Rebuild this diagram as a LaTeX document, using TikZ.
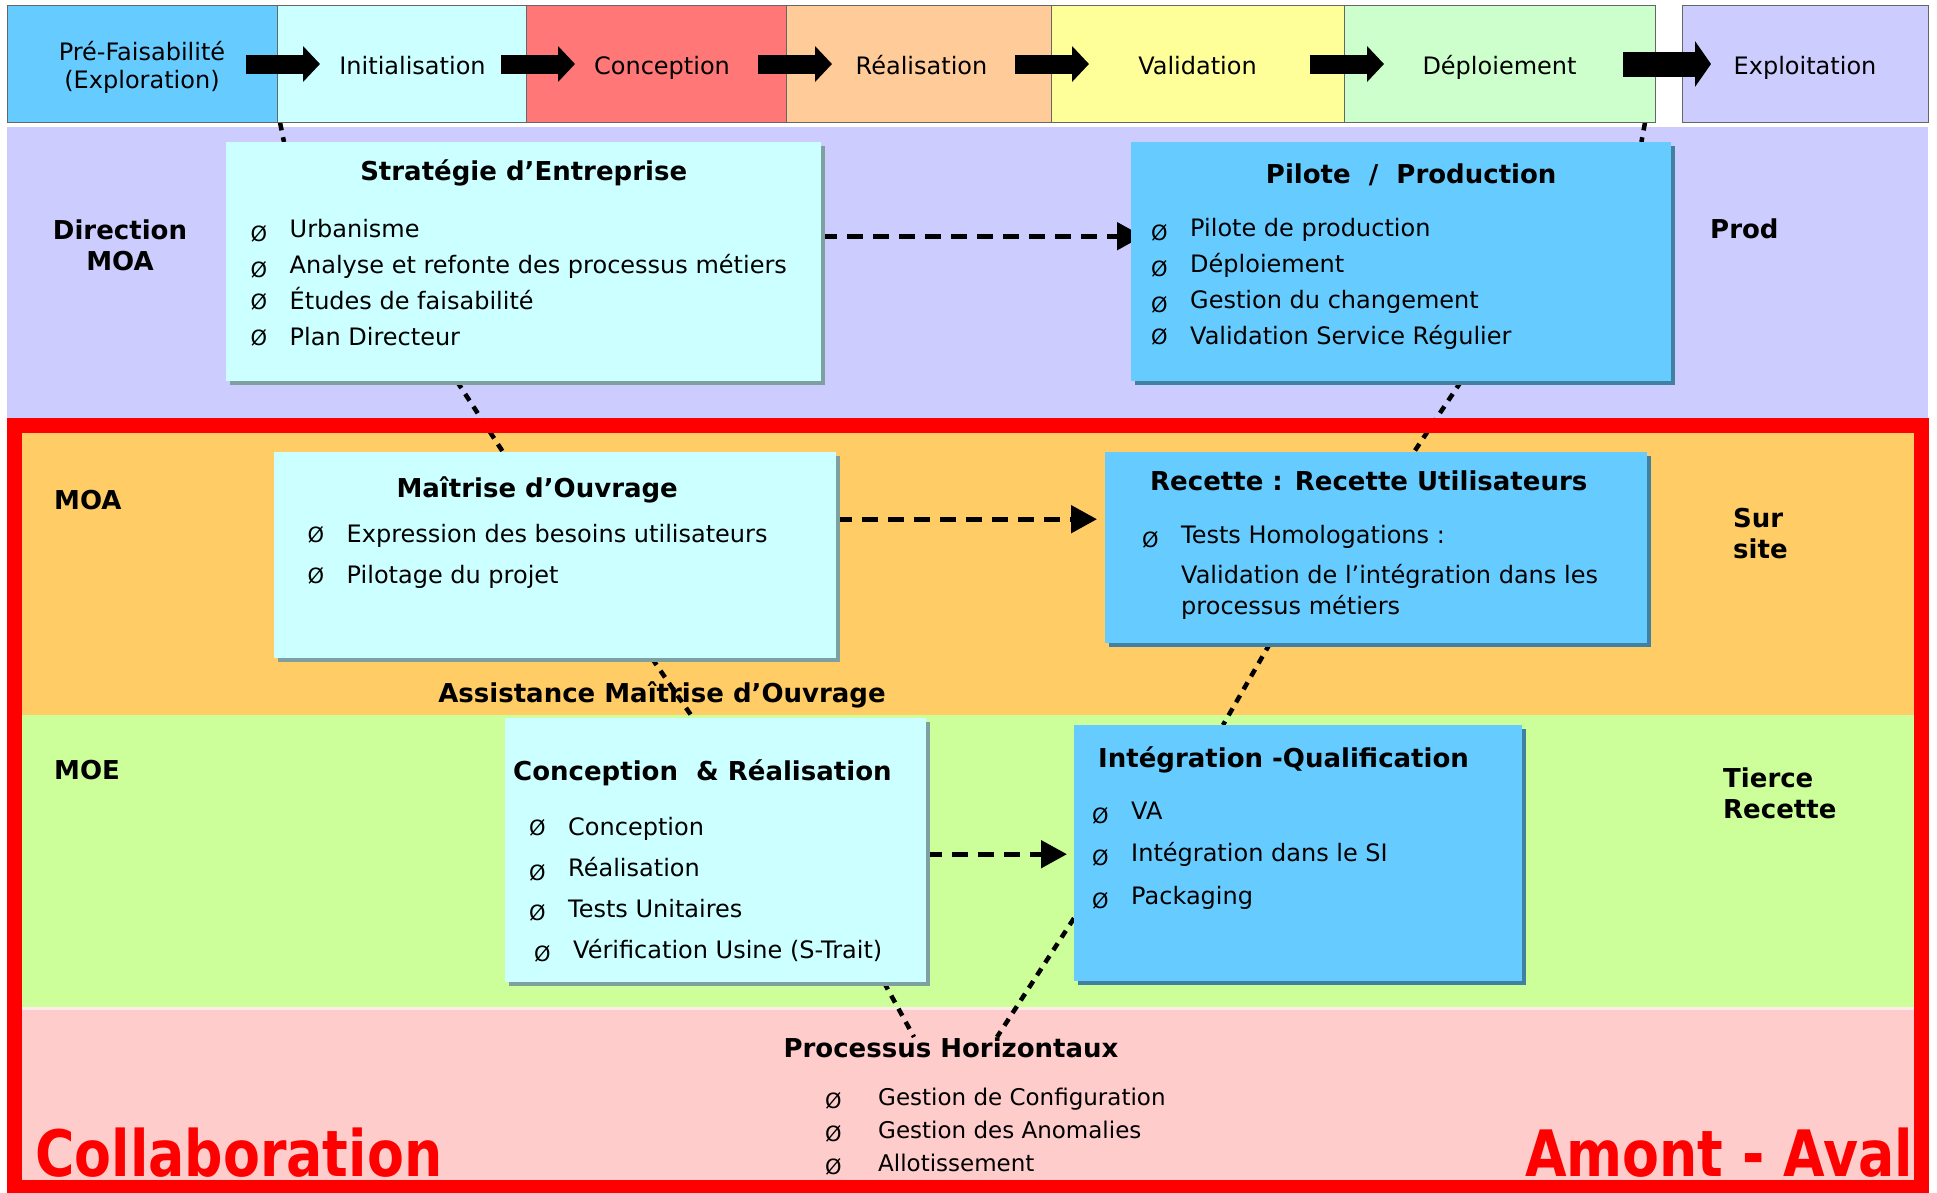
\documentclass[tikz,border=0pt]{standalone}
\usepackage{fontspec}
\setmainfont{DejaVu Sans}
\usepackage{graphicx}
\usetikzlibrary{positioning,arrows.meta,shadows}

\definecolor{preC}{HTML}{66CCFF}
\definecolor{iniC}{HTML}{CCFFFF}
\definecolor{concC}{HTML}{FF7777}
\definecolor{realC}{HTML}{FFCC99}
\definecolor{validC}{HTML}{FFFF99}
\definecolor{deplC}{HTML}{CCFFCC}
\definecolor{explC}{HTML}{CCCCFF}
\definecolor{dirC}{HTML}{CCCCFF}
\definecolor{moaC}{HTML}{FFCC66}
\definecolor{moeC}{HTML}{CCFF99}
\definecolor{horC}{HTML}{FFCCCC}
\definecolor{cyanbox}{HTML}{CCFFFF}
\definecolor{cyanshadow}{HTML}{7FA0A0}
\definecolor{bluebox}{HTML}{66CCFF}
\definecolor{blueshadow}{HTML}{4080A0}

\newcommand{\topfont}{\fontsize{24}{28}\selectfont}
\newcommand{\hdfont}{\fontsize{26}{31}\selectfont\bfseries}
\newlength\itmgap
\setlength\itmgap{39pt}
\newcommand{\itm}[2][0pt]{\makebox[\itmgap][l]{\raisebox{-#1}{\fontsize{21}{21}\selectfont Ø}}#2}

\pgfdeclarelayer{back}
\pgfdeclarelayer{links}
\pgfsetlayers{back,links,main}

\tikzset{
  phase/.style={draw=black!60, line width=0.8pt, outer sep=0pt, inner sep=0pt, minimum height=117pt, font=\topfont},
  oneline/.style={text height=20pt, text depth=0pt},
  blockarr/.style={line width=19pt, -{Triangle[length=17pt,width=35pt]}},
  cbox/.style={anchor=north west, inner sep=0pt, fill=cyanbox, drop shadow={shadow xshift=4pt, shadow yshift=-4pt, fill=cyanshadow, opacity=1}},
  bbox/.style={anchor=north west, inner sep=0pt, fill=bluebox, drop shadow={shadow xshift=4pt, shadow yshift=-4pt, fill=blueshadow, opacity=1}},
  boxtitle/.style={inner sep=0pt, anchor=base, font=\hdfont},
  lst/.style={inner sep=0pt, anchor=base west, font=\fontsize{24}{#1}\selectfont},
  lst/.default=36,
  lbl/.style={inner sep=0pt, anchor=base west, font=\hdfont},
  flow/.style={line width=5pt, dash pattern=on 16pt off 10pt, -{Triangle[length=26pt,width=27pt]}},
  link/.style={line width=4.5pt, dash pattern=on 8pt off 7pt},
  bigred/.style={inner sep=0pt, text=red, font=\fontsize{64}{70}\selectfont\bfseries}
}

\begin{document}
\begin{tikzpicture}[x=1pt,y=-1pt]
  \useasboundingbox (0,0) rectangle (1937,1192);

  % bands
  \begin{pgfonlayer}{back}
    \fill[dirC] (7,127) rectangle (1928,425);
    \fill[moaC] (14,425) rectangle (1921,715);
    \fill[moeC] (14,715) rectangle (1921,1007);
    \fill[horC!40] (14,1007) rectangle (1921,1010);
    \fill[horC] (14,1010) rectangle (1921,1190);
  \end{pgfonlayer}
  \draw[red, line width=15pt] (14.5,425) rectangle (1921.5,1187.5);

  % phases
  \node[phase, fill=preC, minimum width=270pt, anchor=north west] (pf) at (7,5.5) {\raisebox{-5pt}[\height][\depth]{\begin{tabular}{@{}c@{}}Pré-Faisabilité\\(Exploration)\end{tabular}}};
  \node[phase, oneline, fill=iniC, minimum width=249pt, right=0pt of pf] (ini) {\hspace*{22pt}Initialisation};
  \node[phase, oneline, fill=concC, minimum width=260pt, right=0pt of ini] (conc) {\hspace*{12pt}Conception};
  \node[phase, oneline, fill=realC, minimum width=265pt, right=0pt of conc] (real) {\hspace*{6pt}Réalisation};
  \node[phase, oneline, fill=validC, minimum width=293pt, right=0pt of real] (valid) {Validation};
  \node[phase, oneline, fill=deplC, minimum width=311pt, right=0pt of valid] (depl) {Déploiement};
  \node[phase, oneline, fill=explC, minimum width=246pt, right=27pt of depl] (expl) {Exploitation};

  \draw[blockarr] ([xshift=-31pt]pf.east) -- ([xshift=43pt]ini.west);
  \draw[blockarr] ([xshift=-25pt]ini.east) -- ([xshift=49pt]conc.west);
  \draw[blockarr] ([xshift=-28pt]conc.east) -- ([xshift=46pt]real.west);
  \draw[blockarr] ([xshift=-36pt]real.east) -- ([xshift=38pt]valid.west);
  \draw[blockarr] ([xshift=-34pt]valid.east) -- ([xshift=40pt]depl.west);
  \draw[blockarr, line width=25pt, -{Triangle[length=16pt,width=45pt]}] ([xshift=-32pt]depl.east) -- ([xshift=29pt]expl.west);

  % boxes
  \node[cbox, minimum width=595pt, minimum height=239pt] (strat) at (226,142) {};
  \node[bbox, minimum width=540pt, minimum height=239pt] (pilot) at (1131,142) {};
  \node[cbox, minimum width=562pt, minimum height=206pt] (moa) at (274,452) {};
  \node[bbox, minimum width=542pt, minimum height=191pt] (recet) at (1105,452) {};
  \node[cbox, minimum width=421pt, minimum height=264pt] (concre) at (505,718) {};
  \node[bbox, minimum width=448pt, minimum height=256pt] (integ) at (1074,725) {};

  \node[boxtitle] (strat-t) at ([yshift=-38pt]strat.north) {Stratégie d’Entreprise};
  \node[boxtitle] (pilot-t) at ([xshift=10pt,yshift=-41pt]pilot.north) {Pilote \ / \ Production};
  \node[boxtitle] (moa-t) at ([xshift=-18pt,yshift=-45pt]moa.north) {Maîtrise d’Ouvrage};
  \node[boxtitle, anchor=base west] (recet-t) at ([xshift=45pt,yshift=-38pt]recet.north west) {Recette : Recette Utilisateurs};
  \node[boxtitle, anchor=base west] (concre-t) at ([xshift=8pt,yshift=-62pt]concre.north west) {Conception\ \ \& Réalisation};
  \node[boxtitle, anchor=base west] (integ-t) at ([xshift=24pt,yshift=-42pt]integ.north west) {Intégration -Qualification};

  \node[lst] (strat-l) at ([xshift=24.5pt,yshift=-95pt]strat.north west) {\begin{tabular}[t]{@{}l@{}}
      \itm[4pt]{Urbanisme}\\
      \itm[4pt]{Analyse et refonte des processus métiers}\\
      \itm{Études de faisabilité}\\
      \itm{Plan Directeur}
    \end{tabular}};
  \node[lst] (pilot-l) at ([xshift=20pt,yshift=-94pt]pilot.north west) {\begin{tabular}[t]{@{}l@{}}
      \itm[4pt]{Pilote de production}\\
      \itm[4pt]{Déploiement}\\
      \itm[4pt]{Gestion du changement}\\
      \itm{Validation Service Régulier}
    \end{tabular}};
  \node[lst=41] (moa-l) at ([xshift=33.5pt,yshift=-90pt]moa.north west) {\begin{tabular}[t]{@{}l@{}}
      \itm{Expression des besoins utilisateurs}\\
      \itm{Pilotage du projet}
    \end{tabular}};
  \node[lst=31] (recet-l) at ([xshift=37pt,yshift=-91pt]recet.north west) {\begin{tabular}[t]{@{}l@{}}
      \itm[4pt]{Tests Homologations :}\\[9pt]
      \hspace*{\itmgap}Validation de l’intégration dans les\\
      \hspace*{\itmgap}processus métiers
    \end{tabular}};
  \node[lst=41] (concre-l) at ([xshift=24pt,yshift=-117pt]concre.north west) {\begin{tabular}[t]{@{}l@{}}
      \itm{Conception}\\
      \itm[4pt]{Réalisation}\\
      \itm[3pt]{Tests Unitaires}\\
      \hspace*{5pt}\itm[3pt]{Vérification Usine (S-Trait)}
    \end{tabular}};
  \node[lst=42.5] (integ-l) at ([xshift=18pt,yshift=-94pt]integ.north west) {\begin{tabular}[t]{@{}l@{}}
      \itm[4pt]{VA}\\
      \itm[4pt]{Intégration dans le SI}\\
      \itm[4pt]{Packaging}
    \end{tabular}};

  % labels
  \node[lbl, anchor=base] (dir) at (120,239) {\begin{tabular}[t]{@{}c@{}}Direction\\MOA\end{tabular}};
  \node[lbl] (prod) at (1710,238) {Prod};
  \node[lbl] (moa-n) at (54,509) {MOA};
  \node[lbl] (surs) at (1733,527) {\begin{tabular}[t]{@{}l@{}}Sur\\site\end{tabular}};
  \node[lbl, anchor=base] (amoa) at (662,702) {Assistance Maîtrise d’Ouvrage};
  \node[lbl] (moe) at (54,779) {MOE};
  \node[lbl] (tierce) at (1723,787) {\begin{tabular}[t]{@{}l@{}}Tierce\\Recette\end{tabular}};
  \node[lbl, anchor=base] (proc) at (951,1057) {Processus Horizontaux};
  \node[lst=33, font=\fontsize{23}{33}\selectfont] (proc-l) at ([xshift=-126pt,yshift=-48pt]proc.base) {\setlength\itmgap{53pt}\begin{tabular}[t]{@{}l@{}}
      \itm[3pt]{Gestion de Configuration}\\
      \itm[3pt]{Gestion des Anomalies}\\
      \itm[3pt]{Allotissement}
    \end{tabular}};
  \node[bigred, anchor=base west] (collab) at (35,1176) {\scalebox{0.84}[1]{Collaboration}};
  \node[bigred, anchor=base east] (amont) at (1913,1176) {\scalebox{0.84}[1]{Amont - Aval}};

  % links
  \begin{pgfonlayer}{links}
    \draw[link] ([xshift=3pt]ini.south west) -- ([xshift=58pt]strat.north west);
    \draw[link] ([xshift=-10pt]depl.south east) -- ([xshift=-30pt]pilot.north east);
    \draw[link] ([xshift=231pt]strat.south west) -- ([xshift=229pt]moa.north west);
    \draw[link] ([xshift=330pt]pilot.south west) -- ([xshift=309pt]recet.north west);
    \draw[link] ([xshift=378pt]moa.south west) -- ([xshift=188pt]concre.north west);
    \draw[link] ([xshift=165pt]recet.south west) -- ([xshift=149pt]integ.north west);
    \draw[link] ([xshift=379pt]concre.south west) -- ([xshift=-37pt,yshift=20pt]proc.base);
    \draw[link] ([yshift=-65pt]integ.west) -- ([xshift=46pt,yshift=20pt]proc.base);
    \draw[flow] ([yshift=25.5pt]strat.east) -- ([xshift=12pt,yshift=25.5pt]pilot.west);
    \draw[flow, shorten >=8pt] ([yshift=36pt]moa.east) -- ([yshift=36pt]moa.east -| recet.west);
    \draw[flow, shorten >=7pt] ([yshift=-4pt]concre.east) -- ([yshift=-4pt]concre.east -| integ.west);
  \end{pgfonlayer}
\end{tikzpicture}
\end{document}
